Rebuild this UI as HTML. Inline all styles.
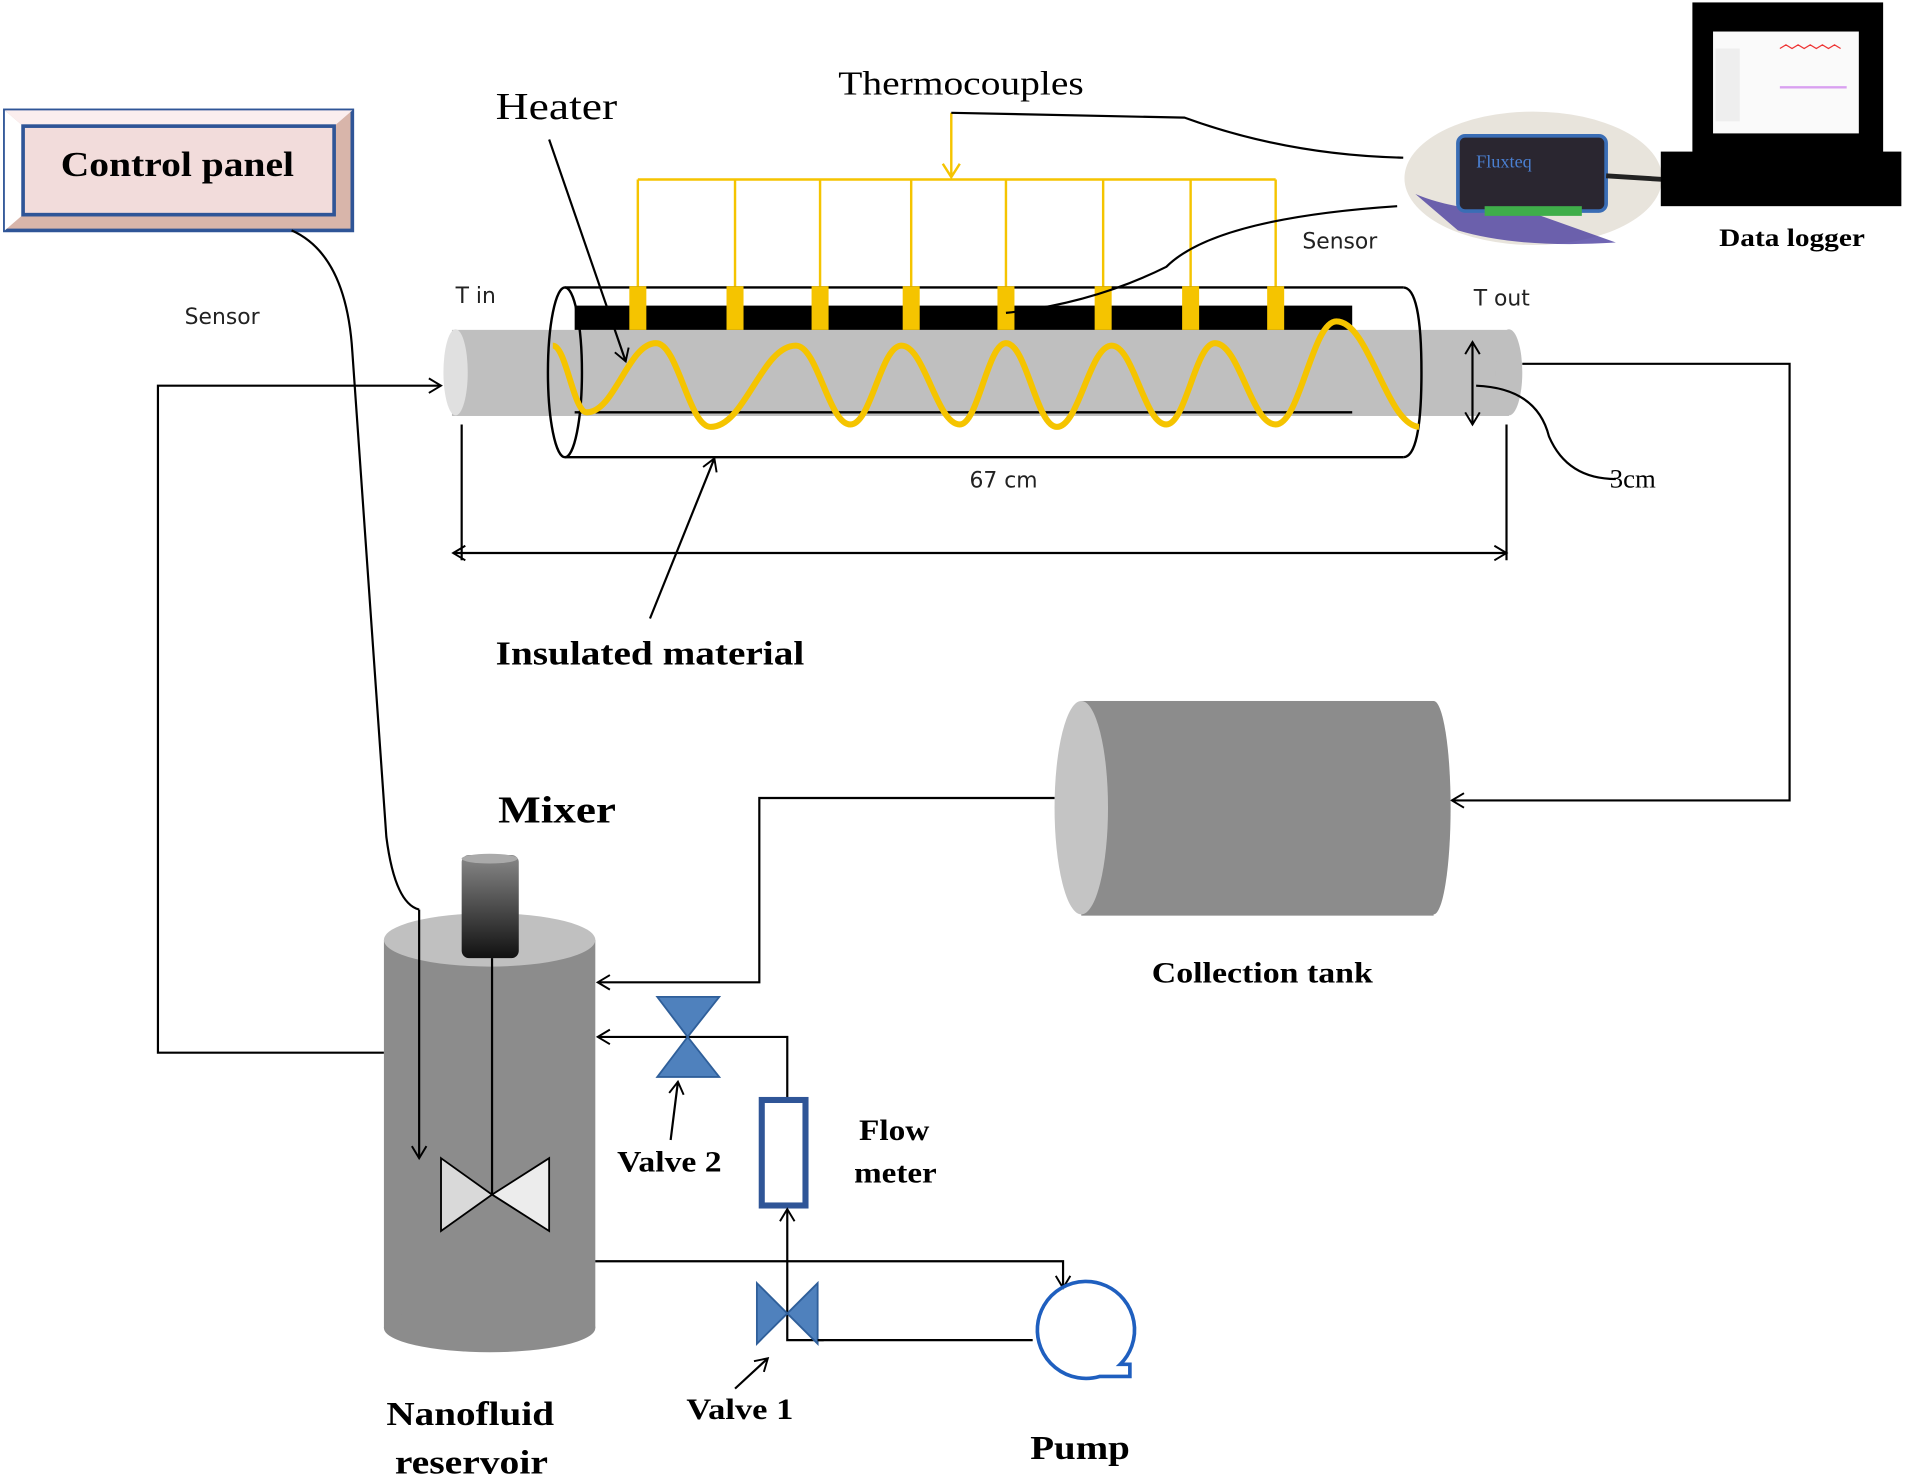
<!DOCTYPE html>
<html><head><meta charset="utf-8"><style>
html,body{margin:0;padding:0;background:#fff;}
svg{display:block;}
.s{font-family:"DejaVu Sans","Liberation Sans",sans-serif;font-size:18px;fill:#222;}
.b{font-family:"Liberation Serif",serif;font-weight:bold;fill:#000;}
.r{font-family:"Liberation Serif",serif;fill:#000;}
</style></head><body>
<svg width="1905" height="1482" viewBox="0 0 1568 1222" preserveAspectRatio="none" xmlns="http://www.w3.org/2000/svg">
<defs>
<marker id="a" markerWidth="14" markerHeight="14" refX="12" refY="7" orient="auto-start-reverse" markerUnits="userSpaceOnUse"><path d="M2,1 L12,7 L2,13" fill="none" stroke="#000" stroke-width="1.6"/></marker>
<marker id="ya" markerWidth="16" markerHeight="16" refX="13" refY="8" orient="auto" markerUnits="userSpaceOnUse"><path d="M2,1 L13,8 L2,15" fill="none" stroke="#f5c400" stroke-width="2"/></marker>
<linearGradient id="mot" x1="0" y1="0" x2="0" y2="1"><stop offset="0" stop-color="#888"/><stop offset="1" stop-color="#111"/></linearGradient>
</defs>
<rect width="1568" height="1222" fill="#fff"/>

<rect x="4" y="91" width="286" height="99" fill="#d8b5aa" stroke="#2f5597" stroke-width="3"/>
<polygon points="4,91 290,91 275,104 19,104" fill="#fbeeee"/>
<polygon points="4,91 19,104 19,177 4,190" fill="#fff"/>
<rect x="19" y="104" width="256" height="73" fill="#f2dcdb" stroke="#2f5597" stroke-width="3"/>
<text x="50" y="145" class="b" font-size="29" textLength="192" lengthAdjust="spacingAndGlyphs">Control panel</text>

<text x="152" y="267" class="s">Sensor</text>
<text x="408" y="98" class="r" font-size="31" textLength="100" lengthAdjust="spacingAndGlyphs">Heater</text>
<text x="690" y="78" class="r" font-size="28" textLength="202" lengthAdjust="spacingAndGlyphs">Thermocouples</text>

<ellipse cx="1262" cy="147" rx="106" ry="55" fill="#e8e4dc"/>
<path d="M1165,160 Q1200,175 1260,175 L1330,200 Q1250,205 1200,190 Z" fill="#4b3fa0" opacity="0.8"/>
<rect x="1200" y="112" width="122" height="62" rx="6" fill="#2a2630" stroke="#3a6db5" stroke-width="3"/>
<text x="1215" y="138" font-family="Liberation Serif,serif" font-size="15" fill="#4a7fd0">Fluxteq</text>
<rect x="1222" y="170" width="80" height="8" fill="#3fae4a"/>
<line x1="1322" y1="145" x2="1370" y2="148" stroke="#222" stroke-width="4"/>
<rect x="1393" y="2" width="157" height="125" fill="#000"/>
<rect x="1410" y="26" width="120" height="84" fill="#fafafa"/>
<rect x="1412" y="40" width="20" height="60" fill="#eee"/>
<path d="M1465,40 l5,-3 5,3 5,-3 5,3 5,-3 5,3 5,-3 5,3 5,-3 5,3" stroke="#e33" fill="none"/>
<line x1="1465" y1="72" x2="1520" y2="72" stroke="#d9a0f0" stroke-width="2"/>
<rect x="1367" y="125" width="198" height="45" fill="#000"/>
<text x="1415" y="203" class="b" font-size="21" textLength="120" lengthAdjust="spacingAndGlyphs">Data logger</text>

<g stroke="#f5c400" stroke-width="2" fill="none">
<line x1="525" y1="148" x2="1050" y2="148"/>
<line x1="525" y1="148" x2="525" y2="240"/>
<line x1="605" y1="148" x2="605" y2="240"/>
<line x1="675" y1="148" x2="675" y2="240"/>
<line x1="750" y1="148" x2="750" y2="240"/>
<line x1="828" y1="148" x2="828" y2="240"/>
<line x1="908" y1="148" x2="908" y2="240"/>
<line x1="980" y1="148" x2="980" y2="240"/>
<line x1="1050" y1="148" x2="1050" y2="240"/>
<line x1="783" y1="93" x2="783" y2="146" marker-end="url(#ya)"/>
</g>
<path d="M783,93 L975,97 Q1060,128 1155,130" fill="none" stroke="#000" stroke-width="1.8"/>
<text x="1072" y="205" class="s">Sensor</text>

<rect x="372" y="272" width="870" height="71" fill="#bfbfbf"/>
<ellipse cx="1242" cy="307" rx="11" ry="35.5" fill="#bfbfbf"/>
<ellipse cx="375" cy="307" rx="10" ry="35.5" fill="#e0e0e0"/>
<path d="M465,237 L1155,237 M465,377 L1155,377" stroke="#000" stroke-width="2" fill="none"/>
<ellipse cx="465" cy="307" rx="14" ry="70" fill="none" stroke="#000" stroke-width="2"/>
<path d="M1155,237 Q1170,237 1170,307 Q1170,377 1155,377" fill="none" stroke="#000" stroke-width="2"/>
<rect x="473" y="252" width="640" height="20" fill="#000"/>
<line x1="473" y1="340" x2="1113" y2="340" stroke="#000" stroke-width="2"/>
<g fill="#f5c400">
<rect x="518" y="236" width="14" height="36"/><rect x="598" y="236" width="14" height="36"/>
<rect x="668" y="236" width="14" height="36"/><rect x="743" y="236" width="14" height="36"/>
<rect x="821" y="236" width="14" height="36"/><rect x="901" y="236" width="14" height="36"/>
<rect x="973" y="236" width="14" height="36"/><rect x="1043" y="236" width="14" height="36"/>
</g>
<path d="M828,258 Q900,250 960,220 Q1000,180 1150,170" fill="none" stroke="#000" stroke-width="1.8"/>
<path d="M455,285 C466,285 472,340 483,340 C506,340 517,283 540,283 C558,283 567,352 585,352 C613,352 627,285 655,285 C673,285 682,350 700,350 C717,350 725,285 742,285 C761,285 771,350 790,350 C805,350 813,283 828,283 C845,283 853,352 870,352 C888,352 897,285 915,285 C933,285 942,350 960,350 C976,350 984,283 1000,283 C1020,283 1030,350 1050,350 C1070,350 1080,265 1100,265 C1127,265 1141,350 1168,352" fill="none" stroke="#f5c400" stroke-width="5"/>
<path d="M452,115 L515,298" stroke="#000" stroke-width="1.8" marker-end="url(#a)"/>
<text x="375" y="250" class="s" font-size="16">T in</text>
<text x="1213" y="252" class="s" font-size="16">T out</text>
<line x1="1212" y1="282" x2="1212" y2="350" stroke="#000" stroke-width="1.8" marker-end="url(#a)" marker-start="url(#a)"/>
<path d="M1215,318 Q1265,320 1275,360 Q1290,395 1330,395" fill="none" stroke="#000" stroke-width="1.8"/>
<text x="1325" y="402" class="r" font-size="22">3cm</text>
<text x="798" y="402" class="s">67 cm</text>
<line x1="380" y1="350" x2="380" y2="462" stroke="#000" stroke-width="1.8"/>
<line x1="1240" y1="350" x2="1240" y2="462" stroke="#000" stroke-width="1.8"/>
<line x1="373" y1="456" x2="1240" y2="456" stroke="#000" stroke-width="1.8" marker-end="url(#a)" marker-start="url(#a)"/>
<line x1="535" y1="510" x2="588" y2="378" stroke="#000" stroke-width="1.8" marker-end="url(#a)"/>
<text x="408" y="548" class="b" font-size="28" textLength="254" lengthAdjust="spacingAndGlyphs">Insulated material</text>

<path d="M1253,300 L1473,300 L1473,660 L1195,660" fill="none" stroke="#000" stroke-width="1.8" marker-end="url(#a)"/>
<path d="M316,868 L130,868 L130,318 L363,318" fill="none" stroke="#000" stroke-width="1.8" marker-end="url(#a)"/>
<path d="M240,190 Q285,210 290,290 L318,690 Q325,745 345,750" fill="none" stroke="#000" stroke-width="1.8"/>

<rect x="890" y="578" width="290" height="177" fill="#8c8c8c"/>
<ellipse cx="1180" cy="666" rx="14" ry="88" fill="#8c8c8c"/>
<ellipse cx="890" cy="666" rx="22" ry="88" fill="#c4c4c4"/>
<text x="948" y="810" class="b" font-size="24" textLength="182" lengthAdjust="spacingAndGlyphs">Collection tank</text>
<path d="M868,658 L625,658 L625,810 L492,810" fill="none" stroke="#000" stroke-width="1.8" marker-end="url(#a)"/>

<text x="410" y="678" class="b" font-size="31" textLength="97" lengthAdjust="spacingAndGlyphs">Mixer</text>
<rect x="316" y="775" width="174" height="320" fill="#8c8c8c"/>
<ellipse cx="403" cy="1095" rx="87" ry="20" fill="#8c8c8c"/>
<ellipse cx="403" cy="775" rx="87" ry="22" fill="#c0c0c0"/>
<rect x="380" y="705" width="47" height="85" rx="6" fill="url(#mot)"/>
<ellipse cx="403" cy="708" rx="23" ry="4" fill="#aaa"/>
<line x1="405" y1="790" x2="405" y2="985" stroke="#000" stroke-width="1.8"/>
<polygon points="363,955 405,985 363,1015" fill="#d9d9d9" stroke="#000" stroke-width="1.5"/>
<polygon points="452,955 405,985 452,1015" fill="#ececec" stroke="#000" stroke-width="1.5"/>
<line x1="345" y1="750" x2="345" y2="955" stroke="#000" stroke-width="1.8" marker-end="url(#a)"/>
<text x="318" y="1175" class="b" font-size="28" textLength="138" lengthAdjust="spacingAndGlyphs">Nanofluid</text>
<text x="325" y="1215" class="b" font-size="28" textLength="126" lengthAdjust="spacingAndGlyphs">reservoir</text>

<path d="M648,905 L648,855 L492,855" fill="none" stroke="#000" stroke-width="1.8" marker-end="url(#a)"/>
<polygon points="541,822 592,822 566,855 592,888 541,888 566,855" fill="#4f81bd" stroke="#2f5f9a" stroke-width="1.5"/>
<line x1="552" y1="940" x2="558" y2="892" stroke="#000" stroke-width="1.8" marker-end="url(#a)"/>
<text x="508" y="966" class="b" font-size="24" textLength="86" lengthAdjust="spacingAndGlyphs">Valve 2</text>
<rect x="627" y="907" width="36" height="87" fill="#fff" stroke="#2f5597" stroke-width="5"/>
<text x="707" y="940" class="b" font-size="24" textLength="58" lengthAdjust="spacingAndGlyphs">Flow</text>
<text x="703" y="975" class="b" font-size="24" textLength="68" lengthAdjust="spacingAndGlyphs">meter</text>
<path d="M678,1105 L648,1105 L648,997" fill="none" stroke="#000" stroke-width="1.8" marker-end="url(#a)"/>
<polygon points="623,1058 648,1083 673,1058 673,1108 648,1083 623,1108" fill="#4f81bd" stroke="#2f5f9a" stroke-width="1.5"/>
<line x1="673" y1="1105" x2="850" y2="1105" stroke="#000" stroke-width="1.8"/>
<line x1="605" y1="1145" x2="632" y2="1120" stroke="#000" stroke-width="1.8" marker-end="url(#a)"/>
<text x="565" y="1170" class="b" font-size="24" textLength="88" lengthAdjust="spacingAndGlyphs">Valve 1</text>
<path d="M490,1040 L875,1040 L875,1062" fill="none" stroke="#000" stroke-width="1.8" marker-end="url(#a)"/>
<path d="M922,1125 A40,40 0 1 0 905,1135 L930,1135 L930,1125 Z" fill="none" stroke="#1f5fbf" stroke-width="3"/>
<text x="848" y="1203" class="b" font-size="28" textLength="82" lengthAdjust="spacingAndGlyphs">Pump</text>
</svg>
</body></html>
